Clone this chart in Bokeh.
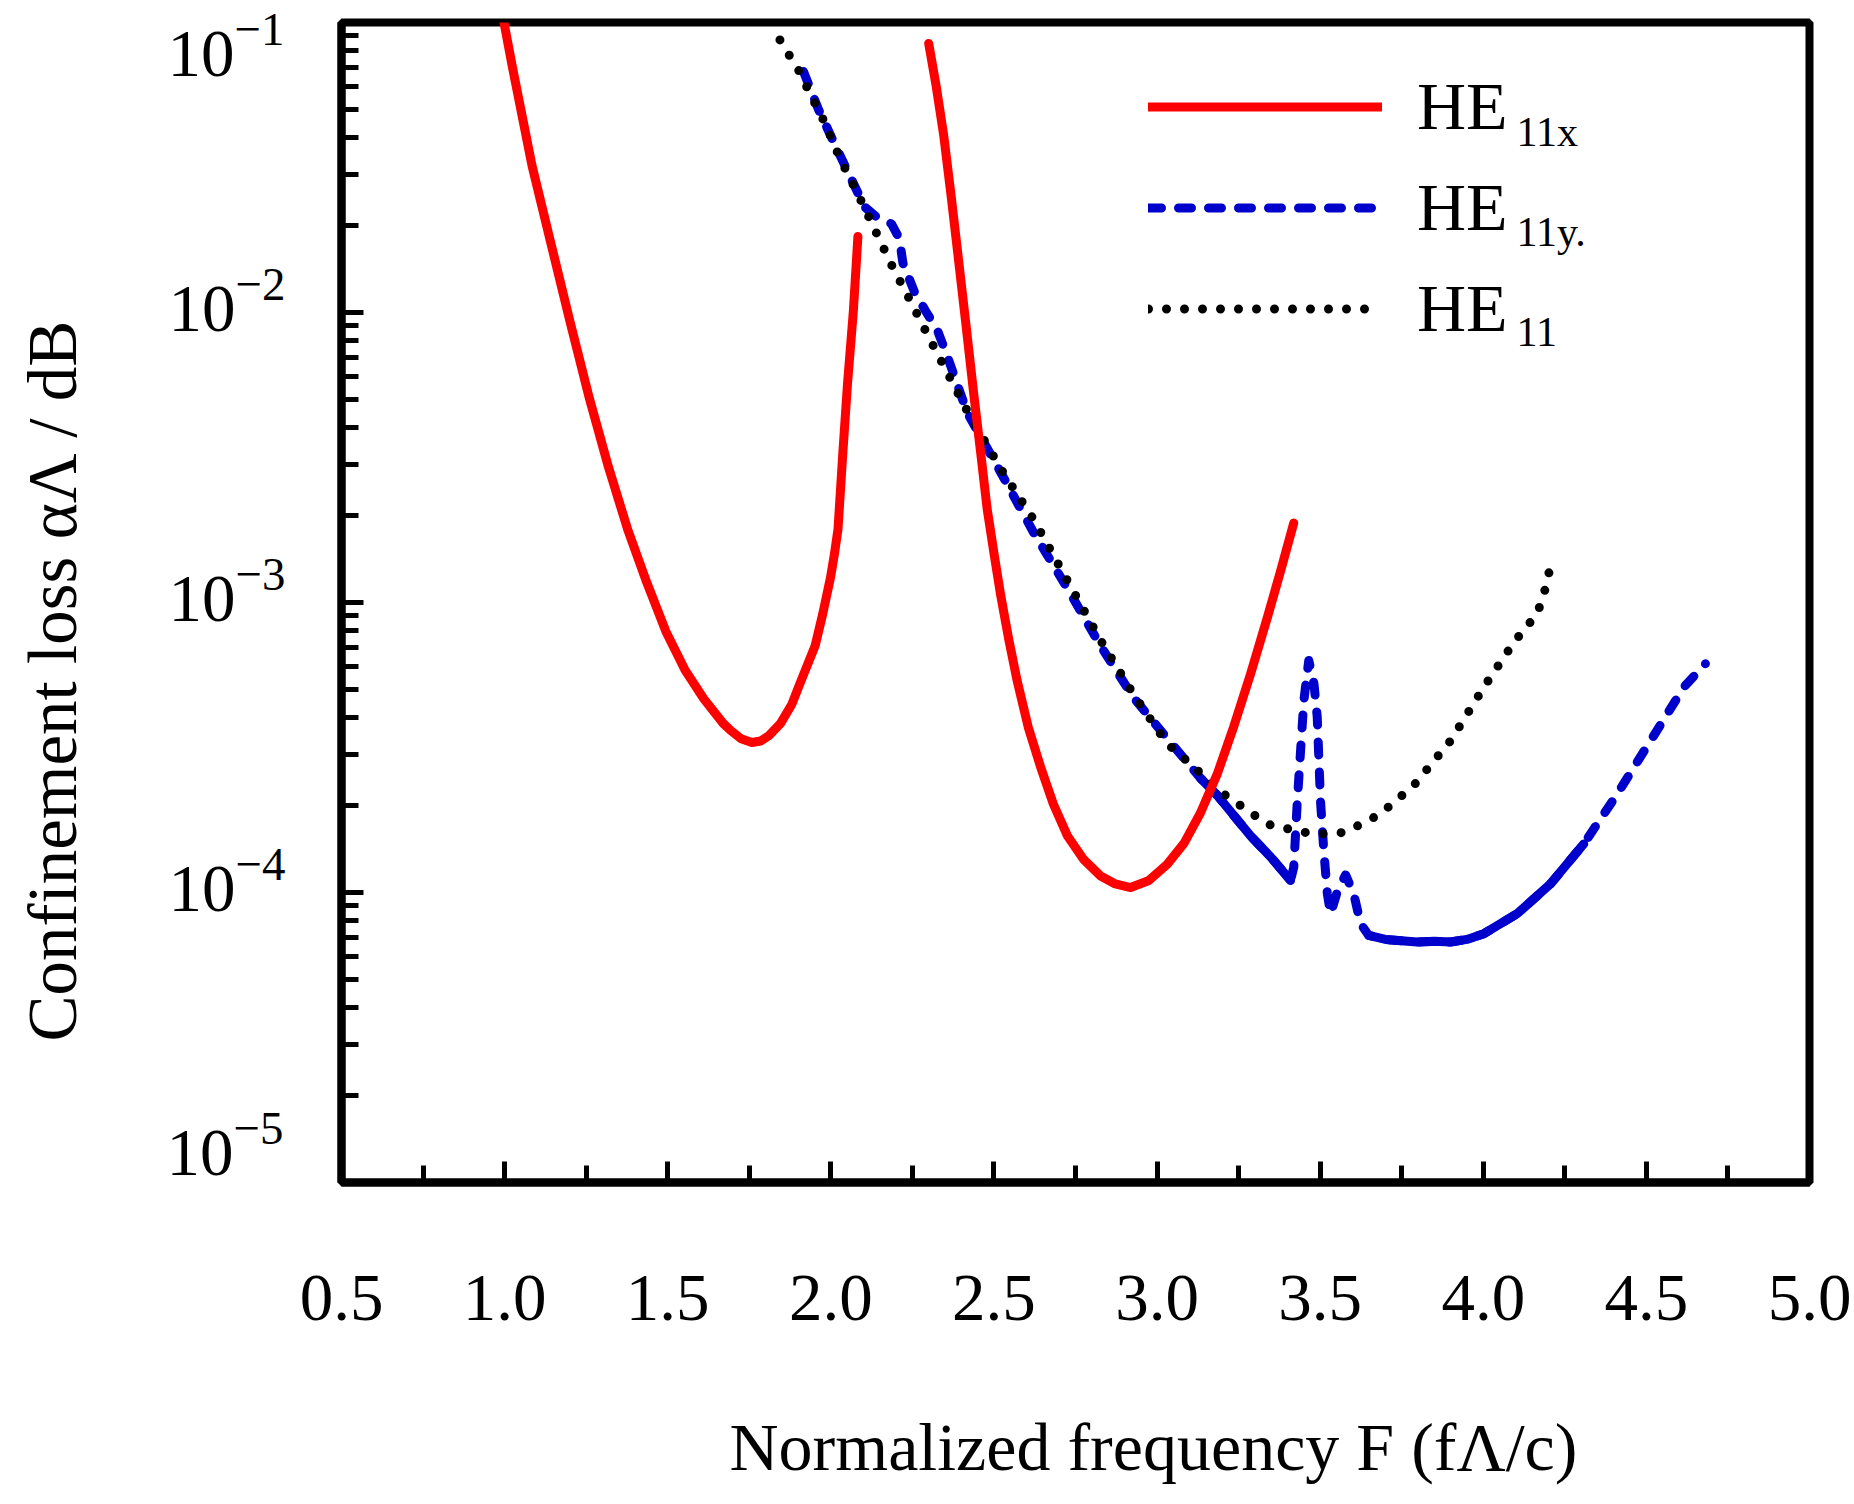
import math
from bokeh.plotting import figure
from bokeh.models import (FixedTicker, PrintfTickFormatter, Label, Legend, LegendItem,
                          LogAxis, LinearAxis, Range1d, Title, CustomJSTickFormatter)
from bokeh.embed import file_html
from bokeh.resources import INLINE

# ---------------- data ----------------
nan = float("nan")

# HE11x : two branches separated by a break
F_HE11x = [0.998, 1.025, 1.084, 1.142, 1.200, 1.260, 1.318, 1.377, 1.436, 1.494,
           1.553, 1.611, 1.670, 1.694, 1.725, 1.758, 1.785, 1.811, 1.846, 1.881,
           1.904, 1.952, 1.975, 1.999, 2.011, 2.022, 2.036, 2.051, 2.069, 2.083,
           nan,
           2.300, 2.323, 2.346, 2.369, 2.392, 2.415, 2.438, 2.459, 2.479, 2.500,
           2.520, 2.545, 2.571, 2.605, 2.643, 2.682, 2.725, 2.775, 2.827, 2.872,
           2.919, 2.975, 3.031, 3.083, 3.133, 3.185, 3.235, 3.287, 3.338, 3.380,
           3.419]
loss_HE11x = [1.00e-1, 6.92e-2, 3.21e-2, 1.73e-2, 9.35e-3, 5.05e-3, 2.94e-3, 1.79e-3, 1.17e-3, 7.96e-4,
              5.85e-4, 4.65e-4, 3.83e-4, 3.61e-4, 3.39e-4, 3.29e-4, 3.33e-4, 3.48e-4, 3.83e-4, 4.47e-4,
              5.21e-4, 7.10e-4, 9.12e-4, 1.22e-3, 1.47e-3, 1.79e-3, 3.18e-3, 5.66e-3, 1.01e-2, 1.83e-2,
              nan,
              8.47e-2, 6.03e-2, 4.08e-2, 2.51e-2, 1.50e-2, 8.91e-3, 5.25e-3, 3.31e-3, 2.11e-3, 1.48e-3,
              1.07e-3, 7.50e-4, 5.38e-4, 3.72e-4, 2.71e-4, 2.02e-4, 1.57e-4, 1.30e-4, 1.14e-4, 1.07e-4,
              1.04e-4, 1.10e-4, 1.25e-4, 1.48e-4, 1.88e-4, 2.57e-4, 3.73e-4, 5.69e-4, 8.87e-4, 1.30e-3,
              1.88e-3]

# HE11y
F_HE11y = [1.916, 1.963, 2.022, 2.065, 2.104, 2.139, 2.165, 2.186, 2.210, 2.221,
           2.256, 2.291, 2.327, 2.360, 2.418, 2.520, 2.622, 2.725, 2.827, 2.929,
           3.031, 3.133, 3.185, 3.286, 3.350, 3.409, 3.419, 3.430, 3.440, 3.450,
           3.465, 3.481, 3.491, 3.501, 3.511, 3.522, 3.532, 3.554, 3.578, 3.603,
           3.624, 3.649, 3.700, 3.797, 3.850, 3.900, 3.950, 4.002, 4.104, 4.206,
           4.308, 4.411, 4.513, 4.615, 4.681]
loss_HE11y = [6.78e-2, 4.99e-2, 3.60e-2, 2.85e-2, 2.31e-2, 2.14e-2, 2.09e-2, 2.02e-2, 1.80e-2, 1.48e-2,
              1.18e-2, 1.01e-2, 8.67e-3, 6.92e-3, 4.52e-3, 2.82e-3, 1.74e-3, 1.12e-3, 7.08e-4, 4.68e-4,
              3.40e-4, 2.48e-4, 2.16e-4, 1.57e-4, 1.32e-4, 1.10e-4, 1.22e-4, 2.07e-4, 3.09e-4, 4.59e-4,
              6.31e-4, 5.25e-4, 4.03e-4, 2.07e-4, 1.40e-4, 9.89e-5, 8.45e-5, 1.02e-4, 1.15e-4, 9.89e-5,
              7.80e-5, 7.11e-5, 6.89e-5, 6.75e-5, 6.79e-5, 6.75e-5, 6.89e-5, 7.21e-5, 8.45e-5, 1.07e-4,
              1.47e-4, 2.19e-4, 3.34e-4, 5.11e-4, 6.15e-4]
# stretches where the dashed HE11y trace appears solid in the original
HE11y_solid_spans = [(3.13, 3.41), (3.64, 4.31)]

# HE11
F_HE11 = [1.844, 1.869, 1.899, 1.952, 1.981, 2.028, 2.081, 2.134, 2.186, 2.245,
          2.298, 2.418, 2.520, 2.622, 2.725, 2.827, 2.929, 3.031, 3.113, 3.185,
          3.235, 3.338, 3.440, 3.491, 3.572, 3.644, 3.685, 3.787, 3.900, 4.002,
          4.094, 4.165, 4.186, 4.211]
loss_HE11 = [8.71e-2, 7.82e-2, 6.92e-2, 5.24e-2, 4.53e-2, 3.40e-2, 2.59e-2, 1.94e-2, 1.46e-2, 1.09e-2,
             8.32e-3, 4.58e-3, 2.90e-3, 1.93e-3, 1.19e-3, 7.40e-4, 4.80e-4, 3.26e-4, 2.71e-4, 2.26e-4,
             2.07e-4, 1.72e-4, 1.62e-4, 1.59e-4, 1.61e-4, 1.76e-4, 1.87e-4, 2.34e-4, 3.34e-4, 5.11e-4,
             7.29e-4, 9.14e-4, 1.07e-3, 1.41e-3]

x_ticks = [0.5, 1.0, 1.5, 2.0, 2.5, 3.0, 3.5, 4.0, 4.5, 5.0]
x_minor_ticks = [0.75, 1.25, 1.75, 2.25, 2.75, 3.25, 3.75, 4.25, 4.75]
y_decade_ticks = [1e-4, 1e-3, 1e-2]
y_top_tick = [1e-1]
y_bottom_tick = [1e-5]
y_minor_ticks = [m * d for d in (1e-5, 1e-4, 1e-3, 1e-2) for m in range(2, 10)]

x_title = "Normalized frequency F (f\u039b/c)"
y_title = "Confinement loss \u03b1\u039b / dB"
legend_base = ["HE", "HE", "HE"]
legend_sub = ["11x", "11y.", "11"]

# ---------------- figure ----------------
FONT = "Liberation Serif"
FS = "67px"
p = figure(frame_width=1468, frame_height=1160,
           min_border_left=341, min_border_right=45, min_border_top=22, min_border_bottom=322,
           x_range=(0.5, 5.0), y_range=(1e-5, 1e-1), y_axis_type="log",
           output_backend="svg", toolbar_location=None)
p.background_fill_color = "white"
p.border_fill_color = "white"
p.grid.visible = False
p.outline_line_color = "black"
p.outline_line_width = 8

blank = CustomJSTickFormatter(code="return ''")


def style_axis(ax):
    ax.axis_line_width = 8
    ax.axis_line_color = "black"
    ax.major_tick_line_width = 5
    ax.minor_tick_line_width = 5
    ax.major_tick_out = 0
    ax.minor_tick_out = 0
    ax.major_label_text_font = FONT
    ax.major_label_text_font_size = FS
    ax.major_label_text_color = "black"
    ax.axis_label = None


def label_only(ax):
    ax.axis_line_color = None
    ax.major_tick_line_color = None
    ax.minor_tick_line_color = None


style_axis(p.xaxis[0])
style_axis(p.yaxis[0])

p.xaxis.ticker = FixedTicker(ticks=x_ticks, minor_ticks=x_minor_ticks)
p.xaxis.formatter = PrintfTickFormatter(format="%.1f")
p.xaxis.major_tick_in = 21
p.xaxis.minor_tick_in = 17
p.xaxis.major_label_standoff = 93

# main y axis: line and ticks only
p.yaxis.ticker = FixedTicker(ticks=y_decade_ticks, minor_ticks=y_minor_ticks)
p.yaxis.formatter = blank
p.yaxis.major_tick_in = 22
p.yaxis.minor_tick_in = 17
p.yaxis.major_label_standoff = 0
p.yaxis.major_label_text_font_size = "1px"

# decade labels drawn by label-only axes (nudged as in the original)
p.extra_y_ranges = {"mid_lbl": Range1d(0.902e-5, 0.902e-1),
                    "top_lbl": Range1d(1.196e-5, 1.196e-1),
                    "bot_lbl": Range1d(7.338e-6, 7.338e-2)}
for name, tks, standoff in (("mid_lbl", y_decade_ticks, 56),
                            ("top_lbl", y_top_tick, -119),
                            ("bot_lbl", y_bottom_tick, -119)):
    ax = LogAxis(y_range_name=name, ticker=FixedTicker(ticks=tks, minor_ticks=[]))
    style_axis(ax)
    label_only(ax)
    ax.major_label_standoff = standoff
    p.add_layout(ax, "left")

# spacers that push the axis titles outwards
for side, gap, tick in (("left", 73, 1e-3), ("below", 84, 2.0)):
    sp = LinearAxis(ticker=FixedTicker(ticks=[tick], minor_ticks=[]), formatter=blank)
    label_only(sp)
    sp.major_tick_out = gap
    sp.major_tick_in = 0
    sp.minor_tick_out = 0
    sp.major_label_text_font_size = "1px"
    sp.major_label_standoff = 0
    sp.axis_label = None
    p.add_layout(sp, side)

# ---------------- curves ----------------
blue = "#0000CC"
LW = 9
r_y = p.line(F_HE11y, loss_HE11y, line_color=blue, line_width=LW,
             line_dash="13 17", line_cap="round", line_join="round")
for lo, hi in HE11y_solid_spans:
    idx = [i for i, f in enumerate(F_HE11y) if lo <= f <= hi]
    p.line([F_HE11y[i] for i in idx], [loss_HE11y[i] for i in idx], line_color=blue,
           line_width=LW, line_cap="round", line_join="round")
r_0 = p.line(F_HE11, loss_HE11, line_color="black", line_width=LW,
             line_dash="0 18", line_cap="round", line_join="round")
r_x = p.line(F_HE11x, loss_HE11x, line_color="#FF0000", line_width=LW,
             line_cap="round", line_join="round")

legend = Legend(items=[LegendItem(label=legend_base[0], renderers=[r_x]),
                       LegendItem(label=legend_base[1], renderers=[r_y]),
                       LegendItem(label=legend_base[2], renderers=[r_0])],
                location=(807, 823), orientation="vertical")
legend.padding = 0
legend.margin = 0
legend.spacing = 0
legend.glyph_width = 234
legend.glyph_height = 101
legend.label_height = 101
legend.label_standoff = 35
legend.label_text_font = FONT
legend.label_text_font_size = "68px"
legend.label_text_color = "black"
legend.border_line_color = None
legend.background_fill_alpha = 0
p.add_layout(legend)

sub_y = [1051, 951, 851]
for s, yy in zip(legend_sub, sub_y):
    p.add_layout(Label(x=1175, y=yy, x_units="screen", y_units="screen", text=s,
                       text_font=FONT, text_font_size="42px", text_baseline="alphabetic",
                       text_align="left", text_color="black"))

# axis titles
xt = Title(text=x_title, align="left", offset=388, vertical_align="bottom", standoff=0,
           text_font=FONT, text_font_size="68px", text_font_style="normal", text_color="black")
p.add_layout(xt, "below")
yt = Title(text=y_title, align="left", offset=141, vertical_align="bottom", standoff=0,
           text_font=FONT, text_font_size="69px", text_font_style="normal", text_color="black")
p.add_layout(yt, "left")

open("out.html", "w").write(file_html(p, INLINE))
